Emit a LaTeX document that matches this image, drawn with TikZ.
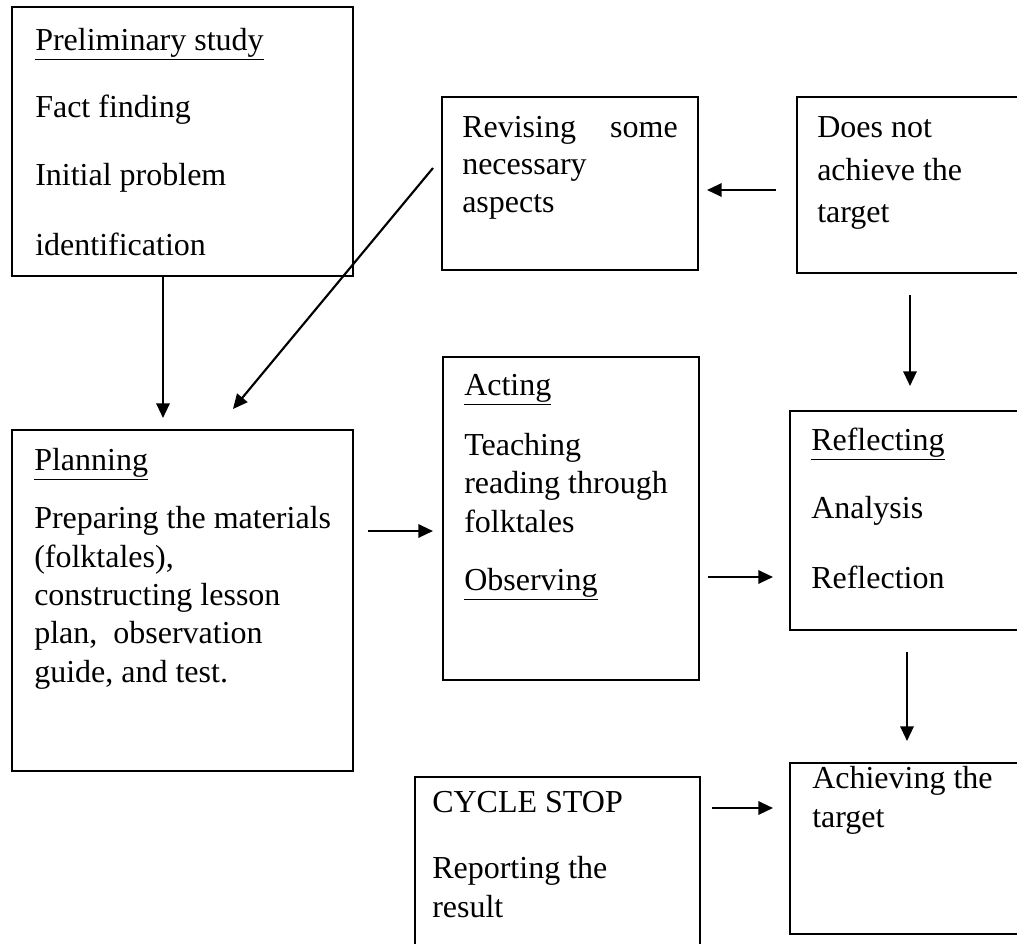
\documentclass[tikz,border=0pt]{standalone}
\usepackage{fontspec}
\setmainfont{Liberation Serif}
\usetikzlibrary{arrows.meta,fit}
\begin{document}
\begin{tikzpicture}[x=0.75pt,y=-0.75pt,
  box/.style={draw,line width=1.1pt,inner sep=0pt},
  txt/.style={anchor=base west,inner sep=0pt,font=\fontsize{24}{27.6}\selectfont},
  txte/.style={anchor=base east,inner sep=0pt,font=\fontsize{24}{27.6}\selectfont},
  arr/.style={line width=1.6pt,-{Triangle[length=11pt,width=10pt]}}]
\useasboundingbox (0,0) rectangle (1017,943);
\clip (0,0) rectangle (1017,943);
% boxes
\node[box,fit={(12,7) (353,276)}] (prelim) {};
\node[box,fit={(442,97) (698,270)}] (revise) {};
\node[box,fit={(797,97) (1040,273)}] (notach) {};
\node[box,fit={(12,430) (353,771)}] (plan) {};
\node[box,fit={(443,357) (699,680)}] (act) {};
\node[box,fit={(790,411) (1040,630)}] (refl) {};
\node[box,fit={(790,763) (1040,934)}] (ach) {};
\node[box,fit={(415,777) (700,960)}] (stop) {};
% texts
\node[txt] (t1) at (35,50) {\underline{Preliminary study}};
\node[txt] (t2) at (35,117) {Fact finding};
\node[txt] (t3) at (35,185) {Initial problem};
\node[txt] (t4) at (35,255) {identification};
\node[txt] (r1) at (462,137) {Revising};
\node[txte] (r1b) at (678,137) {some};
\node[txt] (r2) at (462,174) {necessary};
\node[txt] (r3) at (462,212) {aspects};
\node[txt] (d1) at (817,137) {Does not};
\node[txt] (d2) at (817,180) {achieve the};
\node[txt] (d3) at (817,222) {target};
\node[txt] (p1) at (34,470) {\underline{Planning}};
\node[txt] (p2) at (34,528) {Preparing the materials};
\node[txt] (p3) at (34,567) {(folktales),};
\node[txt] (p4) at (34,605) {constructing lesson};
\node[txt] (p5) at (34,643) {plan,\ \ observation};
\node[txt] (p6) at (34,682) {guide, and test.};
\node[txt] (a1) at (464,395) {\underline{Acting}};
\node[txt] (a2) at (464,455) {Teaching};
\node[txt] (a3) at (464,493) {reading through};
\node[txt] (a4) at (464,532) {folktales};
\node[txt] (a5) at (464,590) {\underline{Observing}};
\node[txt] (f1) at (811,450) {\underline{Reflecting}};
\node[txt] (f2) at (811,518) {Analysis};
\node[txt] (f3) at (811,588) {Reflection};
\node[txt] (h1) at (812,788) {Achieving the};
\node[txt] (h2) at (812,827) {target};
\node[txt] (s1) at (432,812) {CYCLE STOP};
\node[txt] (s2) at (432,878) {Reporting the};
\node[txt] (s3) at (432,917) {result};
% connector end points
\coordinate (e1a) at (163,276);  \coordinate (e1b) at (163,418);
\coordinate (e2a) at (433,168);  \coordinate (e2b) at (233,409);
\coordinate (e3a) at (776,190);  \coordinate (e3b) at (707,190);
\coordinate (e4a) at (910,295);  \coordinate (e4b) at (910,386);
\coordinate (e5a) at (368,531);  \coordinate (e5b) at (433,531);
\coordinate (e6a) at (708,577);  \coordinate (e6b) at (773,577);
\coordinate (e7a) at (907,652);  \coordinate (e7b) at (907,741);
\coordinate (e8a) at (712,808);  \coordinate (e8b) at (773,808);
\draw[arr] (e1a) -- (e1b);
\draw[arr] (e2a) -- (e2b);
\draw[arr] (e3a) -- (e3b);
\draw[arr] (e4a) -- (e4b);
\draw[arr] (e5a) -- (e5b);
\draw[arr] (e6a) -- (e6b);
\draw[arr] (e7a) -- (e7b);
\draw[arr] (e8a) -- (e8b);
\end{tikzpicture}
\end{document}
